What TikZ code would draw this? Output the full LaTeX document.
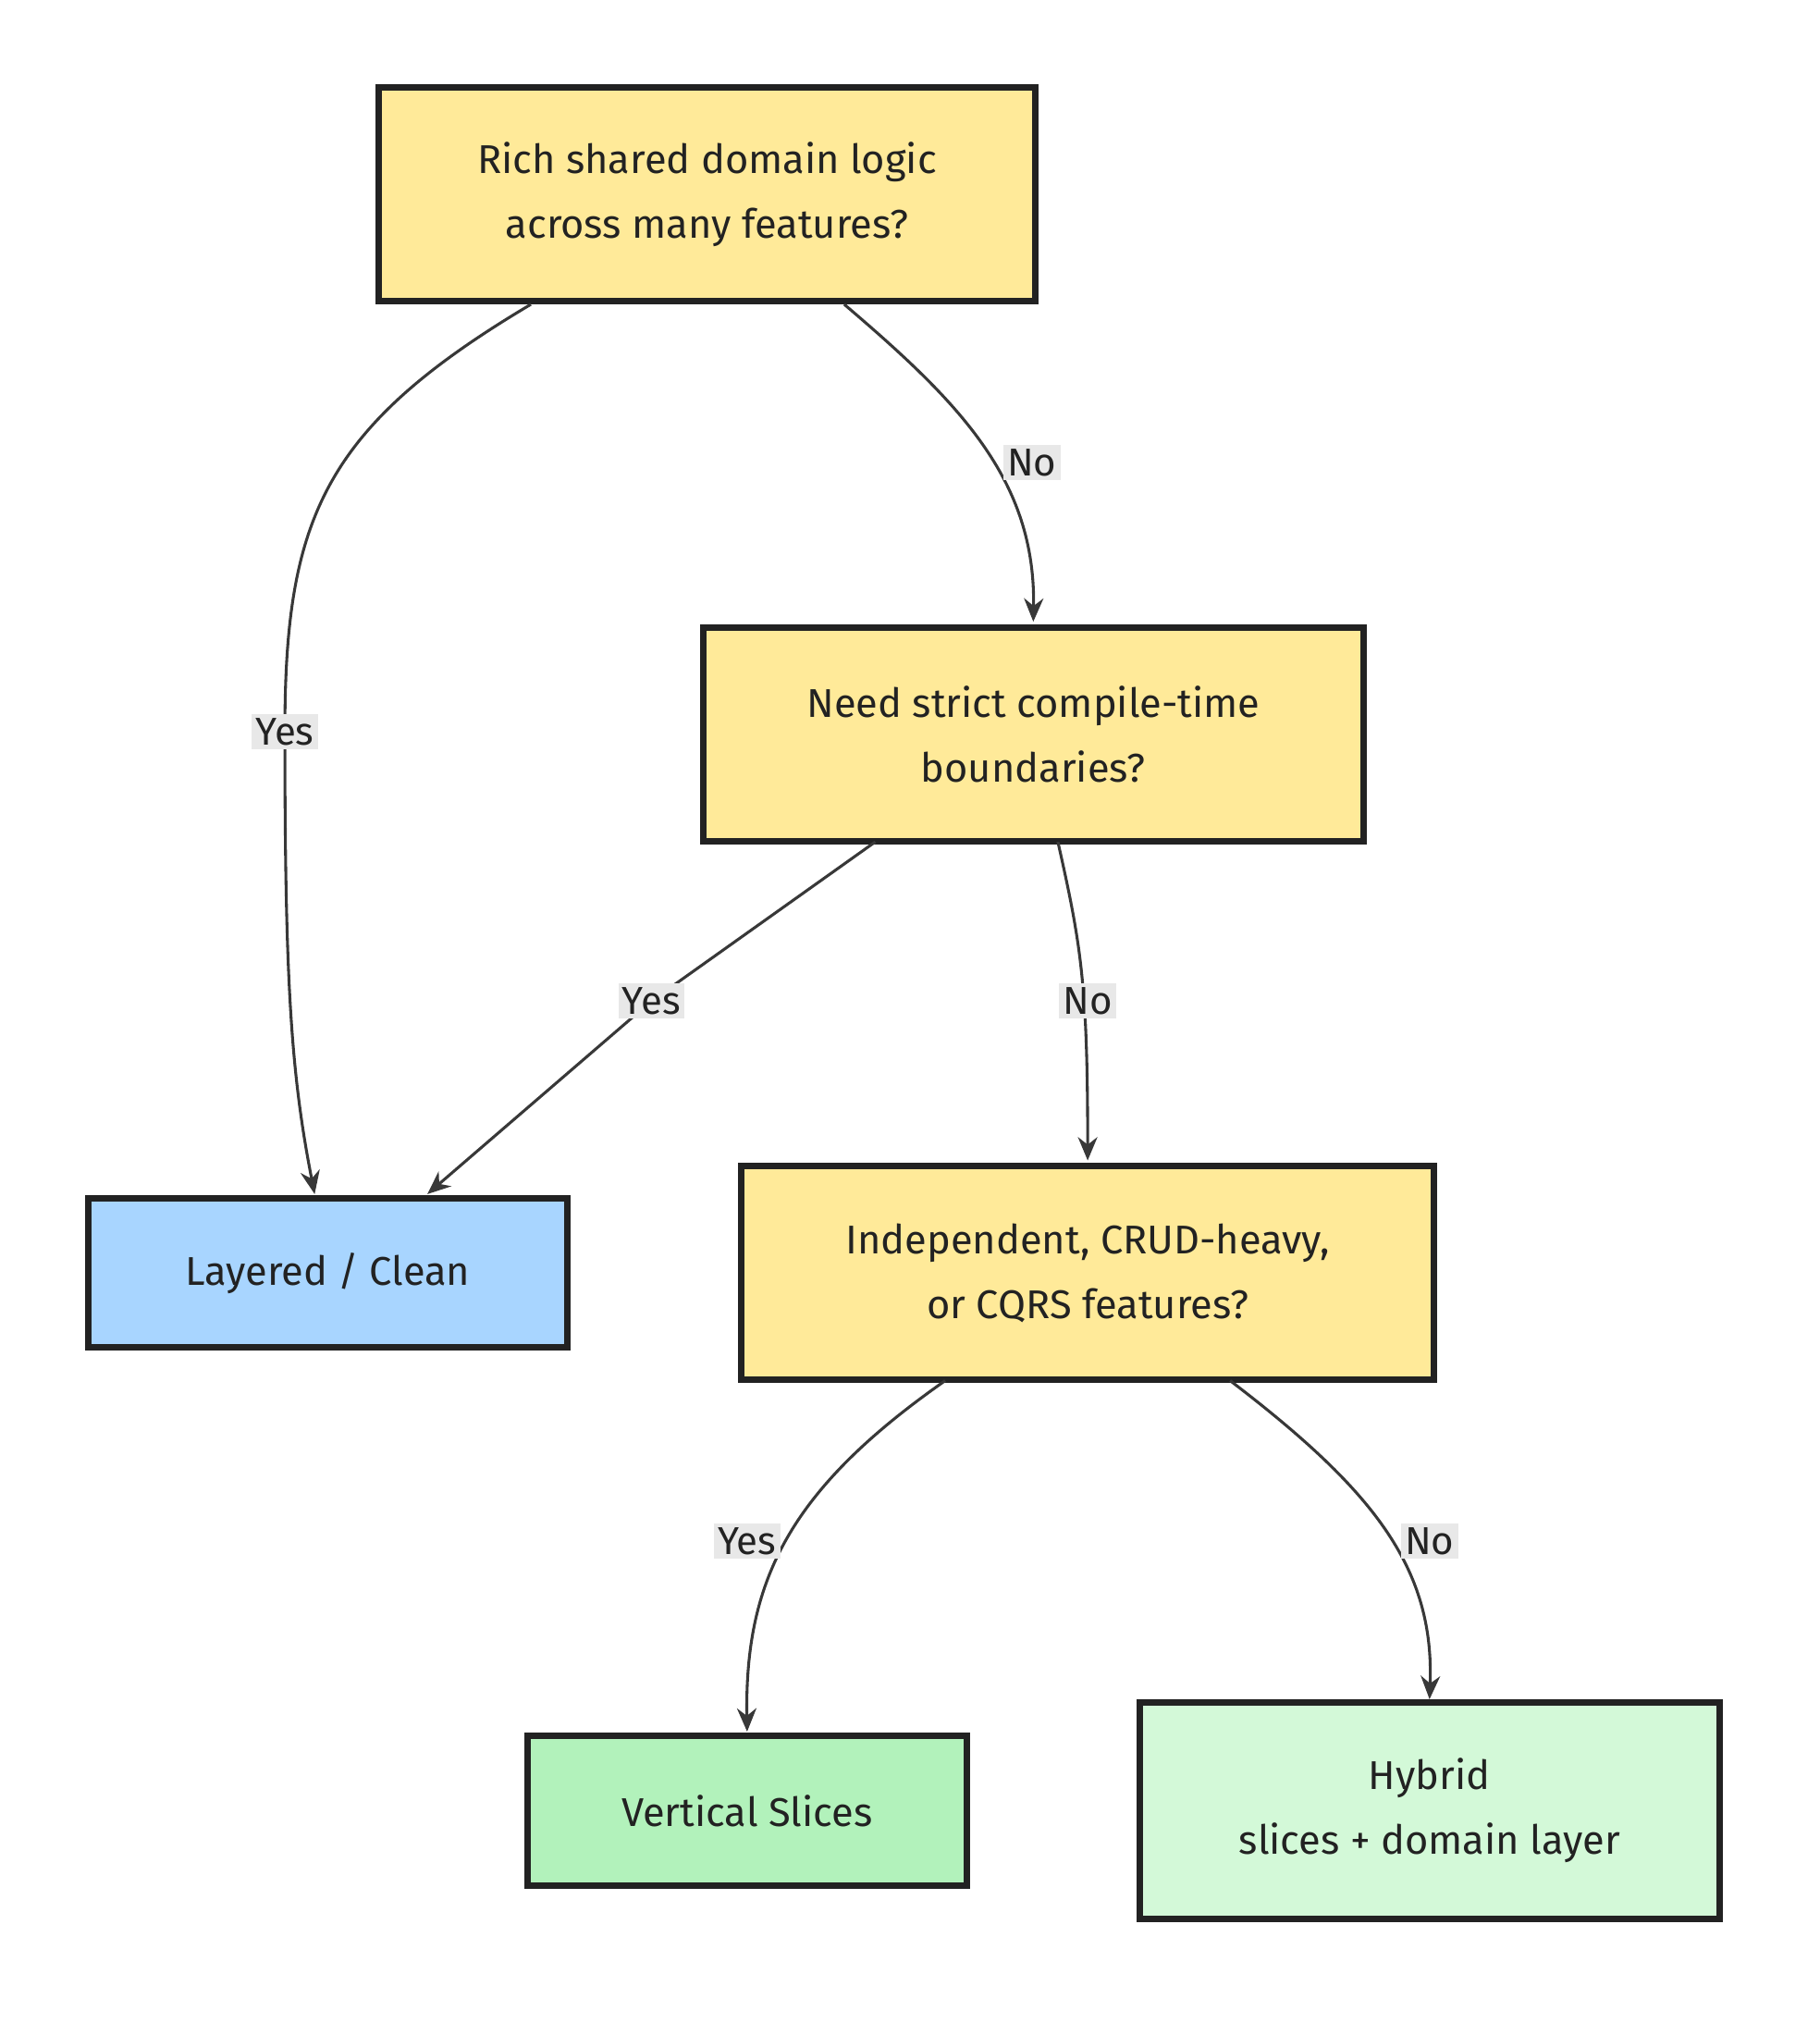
\documentclass[tikz,border=0pt]{standalone}
\usepackage{fontspec}
\setmainfont{Fira Sans}
\usetikzlibrary{arrows.meta}
\definecolor{yel}{HTML}{FFEA99}
\definecolor{blu}{HTML}{A8D5FF}
\definecolor{grn}{HTML}{B2F2BB}
\definecolor{lgrn}{HTML}{D3F9D8}
\definecolor{ink}{HTML}{222222}
\definecolor{lbl}{HTML}{E8E8E8}
\begin{document}
\begin{tikzpicture}[x=1pt,y=-1pt,
  box/.style={draw=ink,line width=5pt,align=center,font=\fontsize{31}{50}\selectfont,text=ink,inner sep=0pt},
  lab/.style={fill=lbl,font=\fontsize{30}{34}\selectfont,text=ink,inner sep=3pt},
  edge/.style={draw=ink!90,line width=2.2pt,-{Stealth[length=18pt,width=15pt]}}]
\useasboundingbox (0,0) rectangle (1405,1562);
\node[box,fill=yel,minimum width=507pt,minimum height=165pt] (a) at (546,150) {Rich shared domain logic\\across many features?};
\node[box,fill=yel,minimum width=510pt,minimum height=165pt] (b) at (798,567) {Need strict compile-time\\boundaries?};
\node[box,fill=blu,minimum width=370pt,minimum height=115pt] (c) at (253,983) {Layered / Clean};
\node[box,fill=yel,minimum width=535pt,minimum height=165pt] (d) at (840,983) {Independent, CRUD-heavy,\\or CQRS features?};
\node[box,fill=grn,minimum width=339pt,minimum height=116pt] (e) at (577,1398) {Vertical Slices};
\node[box,fill=lgrn,minimum width=448pt,minimum height=167pt] (f) at (1104,1398) {Hybrid\\slices + domain layer};
\coordinate (a1) at (410,235); \coordinate (a2) at (652,235);
\coordinate (b1) at (676,650); \coordinate (b2) at (817,650);
\coordinate (d1) at (730,1066); \coordinate (d2) at (950,1066);
\coordinate (c1) at (243,922); \coordinate (c2) at (330,922);
\draw[edge] (a1) .. controls (250,330) and (220,400) .. (220,565) .. controls (220,760) and (225,830) .. (c1);
\node[lab] at (220,565) {Yes};
\draw[edge] (a2) .. controls (740,310) and (800,370) .. (798,480);
\node[lab] at (797,357) {No};
\draw[edge] (b1) -- (503,773) -- (c2);
\node[lab] at (503,773) {Yes};
\draw[edge] (b2) .. controls (835,730) and (840,760) .. (840,896);
\node[lab] at (840,773) {No};
\draw[edge] (d1) .. controls (610,1150) and (575,1220) .. (577,1337);
\node[lab] at (577,1190) {Yes};
\draw[edge] (d2) .. controls (1060,1150) and (1108,1210) .. (1104,1312);
\node[lab] at (1104,1190) {No};
\end{tikzpicture}
\end{document}
